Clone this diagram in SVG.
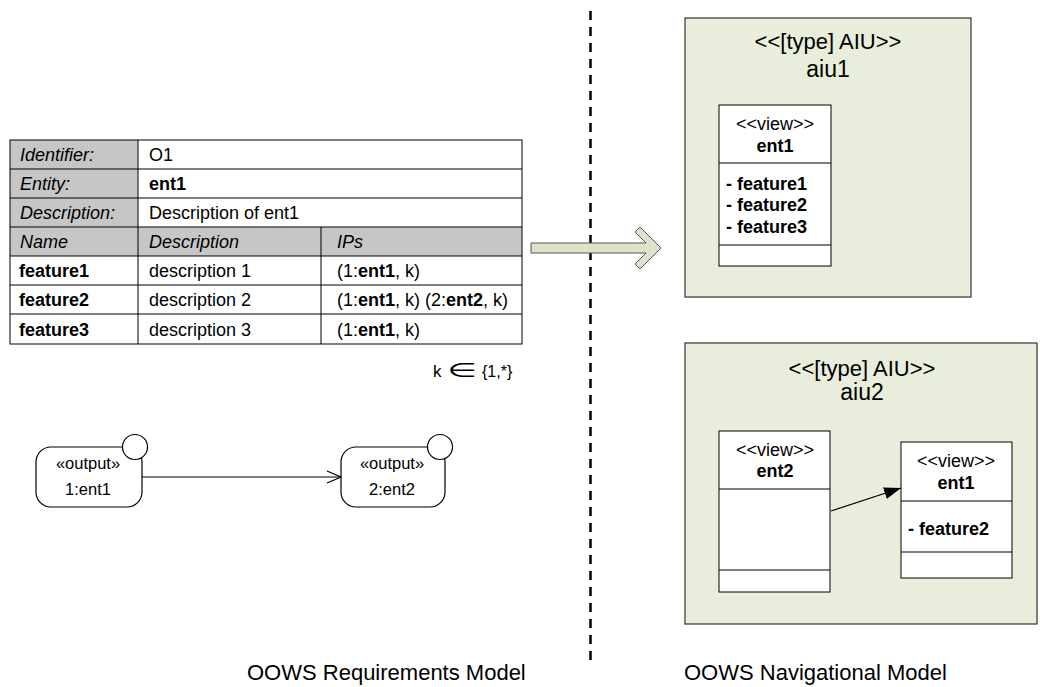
<svg xmlns="http://www.w3.org/2000/svg" width="1040" height="687" viewBox="0 0 1040 687">
<style>
text{font-family:"Liberation Sans",Arial,sans-serif;fill:#000}
.t{font-size:18px}
.i{font-style:italic}
.b{font-weight:bold}
.ln{stroke:#000;stroke-width:1;fill:none}
.view{fill:#fff;stroke:#000;stroke-width:1}
.aiu{fill:#e8eedb;stroke:#333;stroke-width:1.2}
.st{font-size:22px;text-anchor:middle}
.nm{font-size:23px;text-anchor:middle}
.vs{font-size:18px;text-anchor:middle}
.vf{font-size:18px;font-weight:bold}
.out{font-size:16.5px;text-anchor:middle}
.cap{font-size:22px}
</style>
<defs>
<marker id="open" markerUnits="userSpaceOnUse" markerWidth="16" markerHeight="14" refX="15" refY="7" orient="auto">
<path d="M1,1 L15,7 L1,13" fill="none" stroke="#000" stroke-width="1.2"/>
</marker>
<marker id="solid" markerUnits="userSpaceOnUse" markerWidth="18" markerHeight="12" refX="17" refY="6" orient="auto">
<path d="M0,0 L17,6 L0,12 Z" fill="#000"/>
</marker>
</defs>

<g id="table">
<rect x="10" y="140" width="128" height="87" fill="#c6c6c6"/>
<rect x="10" y="227" width="512" height="29" fill="#c6c6c6"/>
<rect x="10" y="140" width="512" height="204" class="ln"/>
<path class="ln" d="M10,169H522M10,198H522M10,227H522M10,256H522M10,285H522M10,314H522M138,140V344M321,227V344"/>
<text class="t i" x="20" y="161">Identifier:</text>
<text class="t" x="149" y="161">O1</text>
<text class="t i" x="20" y="190">Entity:</text>
<text class="t b" x="149" y="190">ent1</text>
<text class="t i" x="20" y="219">Description:</text>
<text class="t" x="149" y="219">Description of ent1</text>
<text class="t i" x="20" y="248">Name</text>
<text class="t i" x="149" y="248">Description</text>
<text class="t i" x="337" y="248">IPs</text>
<text class="t b" x="19" y="277">feature1</text>
<text class="t" x="149" y="277">description 1</text>
<text class="t" x="337" y="277">(1:<tspan class="b">ent1</tspan>, k)</text>
<text class="t b" x="19" y="306">feature2</text>
<text class="t" x="149" y="306">description 2</text>
<text class="t" x="337" y="306">(1:<tspan class="b">ent1</tspan>, k) (2:<tspan class="b">ent2</tspan>, k)</text>
<text class="t b" x="19" y="336">feature3</text>
<text class="t" x="149" y="336">description 3</text>
<text class="t" x="337" y="336">(1:<tspan class="b">ent1</tspan>, k)</text>
</g>

<g id="kset">
<text x="433" y="377" font-size="17">k</text>
<text transform="translate(447,377) scale(1.7,1)" font-size="20" style="font-family:'DejaVu Sans',sans-serif">∈</text>
<text x="482" y="377" font-size="16">{1,*}</text>
</g>

<g id="output1">
<rect x="36" y="447" width="106" height="60" rx="15" ry="15" fill="#fff" stroke="#000" stroke-width="1.2"/>
<circle cx="135" cy="447" r="12.5" fill="#fff" stroke="#000" stroke-width="1.2"/>
<text class="out" x="88" y="469">«output»</text>
<text class="out" x="88" y="495">1:ent1</text>
</g>

<g id="output2">
<rect x="341" y="447" width="104" height="60" rx="15" ry="15" fill="#fff" stroke="#000" stroke-width="1.2"/>
<circle cx="440" cy="447" r="12.5" fill="#fff" stroke="#000" stroke-width="1.2"/>
<text class="out" x="392" y="469">«output»</text>
<text class="out" x="392" y="495">2:ent2</text>
</g>

<g id="separator">
<line x1="590.5" y1="11" x2="590.5" y2="662" stroke="#000" stroke-width="2.5" stroke-dasharray="9 7"/>
</g>

<g id="transform-arrow">
<polygon points="531,243 646,243 635,232 640,227 661,248 640,269 635,264 646,253 531,253" fill="#dde2c8" stroke="#555" stroke-width="1"/>
</g>

<g id="aiu1">
<rect class="aiu" x="685" y="18" width="286" height="279"/>
<text class="st" x="828" y="49">&lt;&lt;[type] AIU&gt;&gt;</text>
<text class="nm" x="828" y="77">aiu1</text>
</g>

<g id="aiu1-ent1">
<rect class="view" x="719" y="105" width="112" height="161"/>
<path class="ln" d="M719,163H831M719,245H831"/>
<text class="vs" x="775" y="130">&lt;&lt;view&gt;&gt;</text>
<text class="vs b" x="775" y="152">ent1</text>
<text class="vf" x="726" y="190">- feature1</text>
<text class="vf" x="726" y="211">- feature2</text>
<text class="vf" x="726" y="233">- feature3</text>
</g>

<g id="aiu2">
<rect class="aiu" x="685" y="343" width="352" height="281"/>
<text class="st" x="862" y="376">&lt;&lt;[type] AIU&gt;&gt;</text>
<text class="nm" x="862" y="400">aiu2</text>
</g>

<g id="aiu2-ent2">
<rect class="view" x="719" y="431" width="111" height="161"/>
<path class="ln" d="M719,489H830M719,570H830"/>
<text class="vs" x="775" y="456">&lt;&lt;view&gt;&gt;</text>
<text class="vs b" x="775" y="477">ent2</text>
</g>

<g id="aiu2-ent1">
<rect class="view" x="901" y="442" width="111" height="136"/>
<path class="ln" d="M901,501H1012M901,552H1012"/>
<text class="vs" x="956" y="467">&lt;&lt;view&gt;&gt;</text>
<text class="vs b" x="956" y="489">ent1</text>
<text class="vf" x="908" y="535">- feature2</text>
</g>

<g id="connectors">
<line x1="831" y1="511" x2="901" y2="488" stroke="#000" stroke-width="1.2" marker-end="url(#solid)"/>
<line x1="142" y1="477" x2="341" y2="477" stroke="#000" stroke-width="1.2" marker-end="url(#open)"/>
</g>

<g id="captions">
<text class="cap" x="247" y="680">OOWS Requirements Model</text>
<text class="cap" x="684" y="680">OOWS Navigational Model</text>
</g>
</svg>
